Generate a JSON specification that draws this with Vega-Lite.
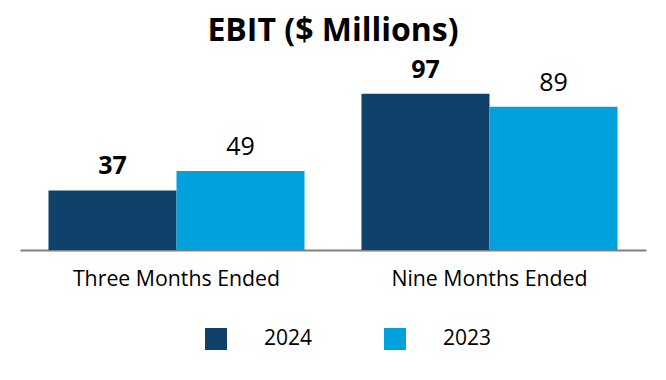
{
  "$schema": "https://vega.github.io/schema/vega-lite/v6.json",
  "width": 626,
  "height": 161,
  "autosize": "none",
  "padding": {"left": 20, "top": 89, "right": 20, "bottom": 130},
  "background": "white",
  "config": {
    "font": "Open Sans",
    "view": {"stroke": null}
  },
  "title": {
    "text": "EBIT ($ Millions)",
    "fontSize": 32,
    "fontWeight": "bold",
    "color": "#000000",
    "anchor": "middle",
    "baseline": "alphabetic",
    "offset": 14,
    "dy": 29
  },
  "data": {
    "values": [
      {"period": "Three Months Ended", "year": "2024", "ebit": 37},
      {"period": "Three Months Ended", "year": "2023", "ebit": 49},
      {"period": "Nine Months Ended", "year": "2024", "ebit": 97},
      {"period": "Nine Months Ended", "year": "2023", "ebit": 89}
    ]
  },
  "encoding": {
    "x": {
      "field": "period",
      "type": "nominal",
      "sort": ["Three Months Ended", "Nine Months Ended"],
      "scale": {"paddingInner": 0.182, "paddingOuter": 0.091},
      "axis": {
        "title": null,
        "labelAngle": 0,
        "labelFontSize": 21.3,
        "labelLimit": 0,
        "labelColor": "#000000",
        "labelPadding": 18,
        "ticks": false,
        "domainColor": "#808080",
        "domainWidth": 2
      }
    },
    "xOffset": {
      "field": "year",
      "type": "nominal",
      "sort": ["2024", "2023"],
      "scale": {"paddingInner": 0, "paddingOuter": 0}
    },
    "y": {
      "field": "ebit",
      "type": "quantitative",
      "scale": {"domain": [0, 100]},
      "axis": null
    }
  },
  "layer": [
    {
      "mark": {"type": "bar"},
      "encoding": {
        "color": {
          "field": "year",
          "type": "nominal",
          "sort": ["2024", "2023"],
          "scale": {"domain": ["2024", "2023"], "range": ["#10416b", "#00a1dc"]},
          "legend": {
            "title": null,
            "orient": "none",
            "direction": "horizontal",
            "legendX": 185,
            "legendY": 239,
            "symbolType": "square",
            "symbolSize": 484,
            "symbolStrokeWidth": 0,
            "labelFontSize": 21,
            "labelColor": "#000000",
            "labelOffset": 37,
            "columnPadding": 71,
            "symbolOpacity": 1
          }
        }
      }
    },
    {
      "transform": [{"filter": "datum.year === '2024'"}],
      "mark": {"type": "text", "fontSize": 25, "fontWeight": "bold", "baseline": "alphabetic", "dy": -16, "color": "#000000"},
      "encoding": {"text": {"field": "ebit", "type": "quantitative"}}
    },
    {
      "transform": [{"filter": "datum.year === '2023'"}],
      "mark": {"type": "text", "fontSize": 25, "fontWeight": "normal", "baseline": "alphabetic", "dy": -16, "color": "#000000"},
      "encoding": {"text": {"field": "ebit", "type": "quantitative"}}
    }
  ]
}
